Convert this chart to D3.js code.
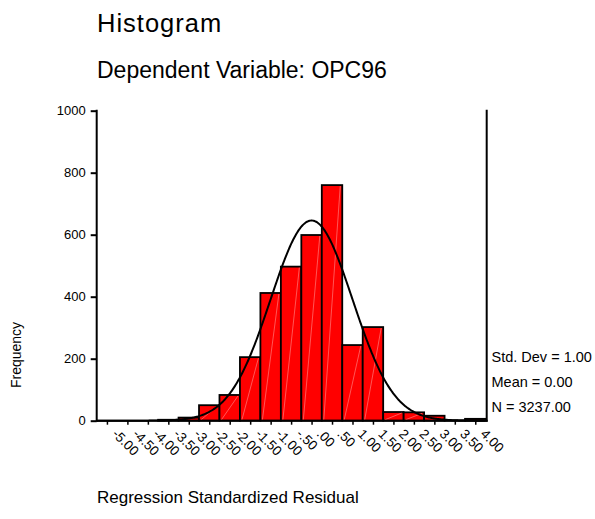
<!DOCTYPE html>
<html><head><meta charset="utf-8">
<script src="https://cdn.jsdelivr.net/npm/d3@7"></script>
<style>body{margin:0;background:#fff}svg{display:block;font-family:"Liberation Sans",Arial,sans-serif}</style>
</head><body><svg id="c" width="595" height="519"></svg>
<script>
const binCenters = [-5.0,-4.5,-4.0,-3.5,-3.0,-2.5,-2.0,-1.5,-1.0,-0.5,0.0,0.5,1.0,1.5,2.0,2.5,3.0,3.5,4.0];
const frequencies = [0,0,0,3,10,50,83,205,412,497,599,760,244,302,28,27,16,1,6];
const xTickLabels = ["-5.00","-4.50","-4.00","-3.50","-3.00","-2.50","-2.00","-1.50","-1.00","-.50",".00",".50","1.00","1.50","2.00","2.50","3.00","3.50","4.00"];
const yTicks = [0,200,400,600,800,1000];
const statLabels = ["Std. Dev = 1.00","Mean = 0.00","N = 3237.00"];
const stdDev = 1.0, mean = 0.0, N = 3237, binWidth = 0.5;

const svg = d3.select("#c");
const L = 96.7, R = 485.5, T = 110.7, B = 420.7;
const x = d3.scaleLinear().domain([-5.25, 4.25]).range([L, R]);
const y = d3.scaleLinear().domain([0, 1000]).range([B, T]);

// titles
svg.append("text").attr("x",97).attr("y",31.5).attr("font-size",25.5).attr("letter-spacing",1).text("Histogram");
svg.append("text").attr("x",97).attr("y",78).attr("font-size",23).text("Dependent Variable: OPC96");

// bars
const bars = svg.append("g");
bars.selectAll("rect").data(binCenters).join("rect")
  .attr("x", (d)=>x(d-binWidth/2))
  .attr("width", (d)=>x(d+binWidth/2)-x(d-binWidth/2))
  .attr("y", (d,i)=>y(frequencies[i]))
  .attr("height", (d,i)=>B-y(frequencies[i]))
  .attr("fill", "#ff0000")
  .attr("stroke", (d,i)=>frequencies[i]>0?"#000":"none")
  .attr("stroke-width", 1.8);
// faint seams inside bars
bars.selectAll("line").data(binCenters.filter((d,i)=>frequencies[i]>20)).join("line")
  .attr("x1", d=>x(d-binWidth/2)+2)
  .attr("y1", B-1)
  .attr("x2", d=>x(d+binWidth/2)-2)
  .attr("y2", d=>y(frequencies[binCenters.indexOf(d)])+1)
  .attr("stroke","#ff9090").attr("stroke-width",0.6);

// normal curve
const pts = d3.range(-5.25, 4.2501, 0.02);
const pdf = (v)=> N*binWidth/(stdDev*Math.sqrt(2*Math.PI))*Math.exp(-0.5*((v-mean)/stdDev)**2);
svg.append("path").datum(pts)
  .attr("d", d3.line().x(d=>x(d)).y(d=>y(pdf(d))))
  .attr("fill","none").attr("stroke","#000").attr("stroke-width",2);

// y axis
const yAxis = svg.append("g").attr("transform",`translate(${L},0)`)
  .call(d3.axisLeft(y).tickValues(yTicks).tickSize(6).tickPadding(5).tickFormat(d3.format("d")));
yAxis.select(".domain").remove();
yAxis.selectAll("line").attr("stroke","#000").attr("stroke-width",2);
yAxis.selectAll("text").attr("font-size",13).attr("font-family","Liberation Sans, Arial, sans-serif").attr("fill","#000");
svg.append("line").attr("x1",L).attr("x2",L).attr("y1",T-1).attr("y2",B+1).attr("stroke","#000").attr("stroke-width",2);
// right frame
svg.append("line").attr("x1",486.7).attr("x2",486.7).attr("y1",T-1).attr("y2",B+1).attr("stroke","#000").attr("stroke-width",2);

// x axis
const xAxis = svg.append("g").attr("transform",`translate(0,${B})`)
  .call(d3.axisBottom(x).tickValues(binCenters).tickSize(4).tickFormat((d,i)=>xTickLabels[i]));
xAxis.select(".domain").attr("d",`M${L},0H487.7`).attr("stroke","#000").attr("stroke-width",2);
xAxis.selectAll("line").attr("stroke","#000").attr("stroke-width",1.5);
xAxis.selectAll("text")
  .attr("font-size",13.5).attr("font-family","Liberation Sans, Arial, sans-serif").attr("fill","#000")
  .attr("text-anchor","start").attr("dy",null).attr("y",null)
  .attr("transform","translate(4,14) rotate(45)");

// axis titles
svg.append("text").attr("transform","translate(21,355) rotate(-90)").attr("text-anchor","middle")
  .attr("font-size",14).text("Frequency");
svg.append("text").attr("x",97).attr("y",503).attr("font-size",17).text("Regression Standardized Residual");

// stats
svg.append("g").selectAll("text").data(statLabels).join("text")
  .attr("x",491.5).attr("y",(d,i)=>361.7+i*25).attr("font-size",14.5).text(d=>d);
</script></body></html>
